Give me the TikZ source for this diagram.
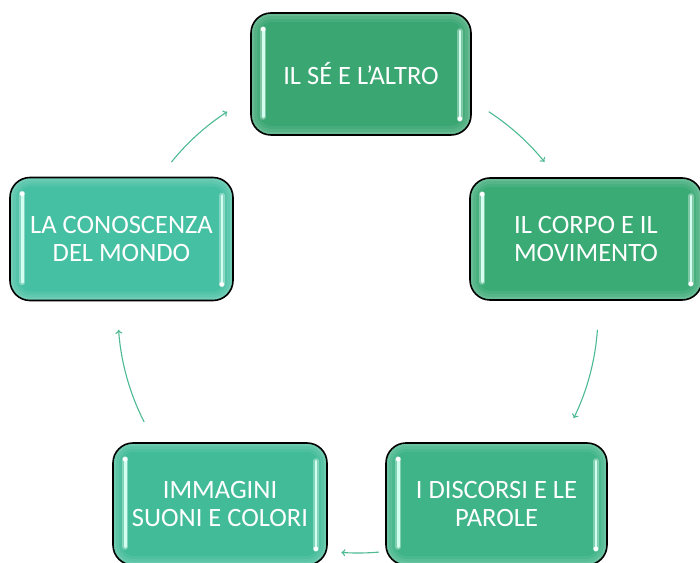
\documentclass[tikz,border=0pt]{standalone}
\usepackage{fontspec}
\setmainfont{Carlito}
\usetikzlibrary{arrows.meta}
\definecolor{ctop}{RGB}{58,166,114}
\definecolor{cright}{RGB}{59,171,118}
\definecolor{cbr}{RGB}{62,180,136}
\definecolor{cbl}{RGB}{66,188,152}
\definecolor{cleft}{RGB}{70,192,162}
\definecolor{arrowc}{RGB}{78,186,146}
\definecolor{shinec}{RGB}{210,255,240}
\newcommand\boxshine[1]{%
  \draw[shineglow] ([xshift=13pt,yshift=-17pt]#1.north west) -- ([xshift=13pt,yshift=19pt]#1.south west);
  \draw[shine] ([xshift=13pt,yshift=-17pt]#1.north west) -- ([xshift=13pt,yshift=19pt]#1.south west);
  \fill[white] ([xshift=13pt,yshift=-17pt]#1.north west) circle (2.4pt);
  \draw[shineglow] ([xshift=-12pt,yshift=-19pt]#1.north east) -- ([xshift=-12pt,yshift=17pt]#1.south east);
  \draw[shine] ([xshift=-12pt,yshift=-19pt]#1.north east) -- ([xshift=-12pt,yshift=17pt]#1.south east);
  \fill[white] ([xshift=-12pt,yshift=17pt]#1.south east) circle (2.4pt);
}
\begin{document}
\begin{tikzpicture}[x=1pt,y=1pt,
  box/.style={draw=black,line width=1.6pt,rounded corners=20pt,text=white,
    font=\fontsize{26.5}{28}\selectfont,align=center,inner sep=0pt,minimum height=122pt,
    path picture={
      \draw[white,opacity=0.07,line width=18pt,rounded corners=20pt]
        (path picture bounding box.south west) rectangle (path picture bounding box.north east);
      \draw[white,opacity=0.08,line width=12pt,rounded corners=20pt]
        (path picture bounding box.south west) rectangle (path picture bounding box.north east);
      \draw[white,opacity=0.10,line width=6pt,rounded corners=20pt]
        (path picture bounding box.south west) rectangle (path picture bounding box.north east);
    }},
  shine/.style={shinec,line width=2.6pt,line cap=round},
  shineglow/.style={white,opacity=0.35,line width=6pt,line cap=round},
  arr/.style={arrowc,line width=1.1pt,-{To[length=4pt,width=7pt]}}
]
\useasboundingbox (0,0) rectangle (700,562);
\clip (0,0) rectangle (700,562);
\fill[white] (0,0) rectangle (700,562);

\node[box,fill=ctop,minimum width=220pt] (top) at (361,488) {IL SÉ E L’ALTRO};
\node[box,fill=cright,minimum width=232pt] (right) at (586,323) {IL CORPO E IL\\MOVIMENTO};
\node[box,fill=cbr,minimum width=221pt] (br) at (496.5,58) {I DISCORSI E LE\\PAROLE};
\node[box,fill=cbl,minimum width=214pt] (bl) at (220,58) {IMMAGINI\\SUONI E COLORI};
\node[box,fill=cleft,minimum width=223pt,minimum height=123pt] (left) at (121.5,323) {LA CONOSCENZA\\DEL MONDO};

\boxshine{top}
\boxshine{right}
\boxshine{br}
\boxshine{bl}
\boxshine{left}

\coordinate (cc) at (358,249);
\coordinate (a1) at ([shift={(57:240)}]cc);
\coordinate (a2) at ([shift={(-4:240)}]cc);
\coordinate (a3) at ([shift={(-85:240)}]cc);
\coordinate (a4) at ([shift={(207:240)}]cc);
\coordinate (a5) at ([shift={(141:240)}]cc);

\draw[arr] (a1) arc[start angle=57,end angle=39,radius=240];
\draw[arr] (a2) arc[start angle=-4,end angle=-26,radius=240];
\draw[arr] (a3) arc[start angle=-85,end angle=-94,radius=240];
\draw[arr] (a4) arc[start angle=207,end angle=184,radius=240];
\draw[arr] (a5) arc[start angle=141,end angle=123,radius=240];
\end{tikzpicture}
\end{document}
